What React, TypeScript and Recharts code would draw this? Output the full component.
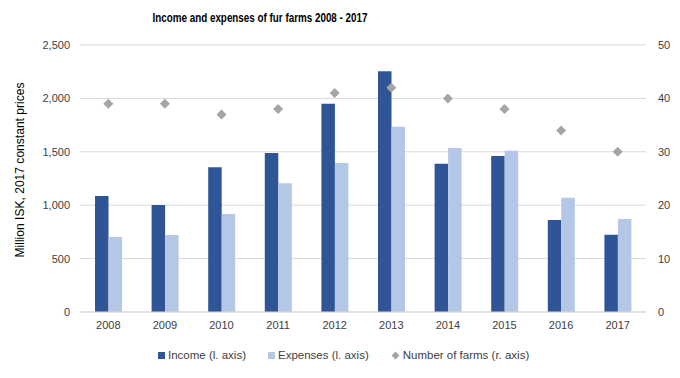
import React from "react";
import { ComposedChart, Bar, Scatter, XAxis, YAxis, CartesianGrid } from "recharts";

const years = ["2008", "2009", "2010", "2011", "2012", "2013", "2014", "2015", "2016", "2017"];
const income = [1085, 1002, 1355, 1489, 1950, 2255, 1389, 1461, 861, 724];
const expenses = [702, 721, 918, 1205, 1395, 1735, 1536, 1510, 1070, 871];
const farms = [39, 39, 37, 38, 41, 42, 40, 38, 34, 30];
const leftTicks = [0, 500, 1000, 1500, 2000, 2500];
const rightTicks = [0, 10, 20, 30, 40, 50];

const data = years.map((y, i) => ({ year: y, income: income[i], expenses: expenses[i], farms: farms[i] }));

const FONT = "'Liberation Sans', Arial, sans-serif";
const C_INC = "#2F5597";
const C_EXP = "#B4C7E7";
const C_FARM = "#A5A5A5";

const Diamond = (props: any) => {
  const { cx, cy } = props;
  if (cx == null || cy == null) return null;
  const r = 5;
  return <polygon points={`${cx},${cy - r} ${cx + r},${cy} ${cx},${cy + r} ${cx - r},${cy}`} fill={C_FARM} />;
};

const fmt = (v: number) => v.toLocaleString("en-US");

export default function App() {
  return (
    <div style={{ position: "absolute", left: 0, top: 0, width: 680, height: 378, background: "#fff", fontFamily: FONT }}>
      <ComposedChart
        width={680}
        height={378}
        data={data}
        margin={{ top: 45, right: 10, bottom: 41, left: 15 }}
        barGap={0}
        style={{ position: "absolute", left: 0, top: 0 }}
      >
        <CartesianGrid vertical={false} stroke="#D9D9D9" yAxisId="left" />
        <XAxis
          dataKey="year"
          tickLine={false}
          tickSize={0}
          tickMargin={9}
          axisLine={{ stroke: "#D9D9D9" }}
          height={25}
          tick={{ fontSize: 11, fill: "#404040", fontFamily: FONT }}
        />
        <YAxis
          yAxisId="left"
          orientation="left"
          width={65}
          domain={[0, 2500]}
          ticks={leftTicks}
          tickFormatter={fmt}
          axisLine={false}
          tickLine={false}
          tickSize={0}
          tickMargin={10}
          tick={{ fontSize: 11, fill: "#404040", fontFamily: FONT }}
        />
        <YAxis
          yAxisId="right"
          orientation="right"
          width={24}
          domain={[0, 50]}
          ticks={rightTicks}
          axisLine={false}
          tickLine={false}
          tickSize={0}
          tickMargin={12}
          tick={{ fontSize: 11, fill: "#404040", fontFamily: FONT }}
        />
        <Bar yAxisId="left" dataKey="income" fill={C_INC} barSize={13.5} isAnimationActive={false} />
        <Bar yAxisId="left" dataKey="expenses" fill={C_EXP} barSize={13.5} isAnimationActive={false} />
        <Scatter yAxisId="right" dataKey="farms" fill={C_FARM} shape={<Diamond />} isAnimationActive={false} />
      </ComposedChart>
      <svg width={680} height={378} style={{ position: "absolute", left: 0, top: 0, pointerEvents: "none" }}>
        <text x={260} y={22} textAnchor="middle" fontFamily={FONT} fontWeight="bold" fontSize={12.5} fill="#000" textLength={215} lengthAdjust="spacingAndGlyphs">
          Income and expenses of fur farms 2008 - 2017
        </text>
        <text
          x={0}
          y={0}
          transform="translate(24,170) rotate(-90)"
          textAnchor="middle"
          fontFamily={FONT}
          fontSize={12}
          fill="#000"
          textLength={175}
          lengthAdjust="spacingAndGlyphs"
        >
          Million ISK, 2017 constant prices
        </text>
      </svg>
      <div style={{ position: "absolute", left: 158, top: 349, display: "flex", alignItems: "center", fontSize: 11.5, color: "#404040", whiteSpace: "nowrap" }}>
        <span style={{ display: "inline-block", width: 7, height: 7, background: C_INC, marginRight: 3 }} />
        <span>Income (l. axis)</span>
        <span style={{ display: "inline-block", width: 7, height: 7, background: C_EXP, marginLeft: 22, marginRight: 3 }} />
        <span>Expenses (l. axis)</span>
        <svg width={9} height={9} style={{ marginLeft: 22, marginRight: 3 }}>
          <polygon points="4.5,0.5 8.5,4.5 4.5,8.5 0.5,4.5" fill={C_FARM} />
        </svg>
        <span>Number of farms (r. axis)</span>
      </div>
    </div>
  );
}
